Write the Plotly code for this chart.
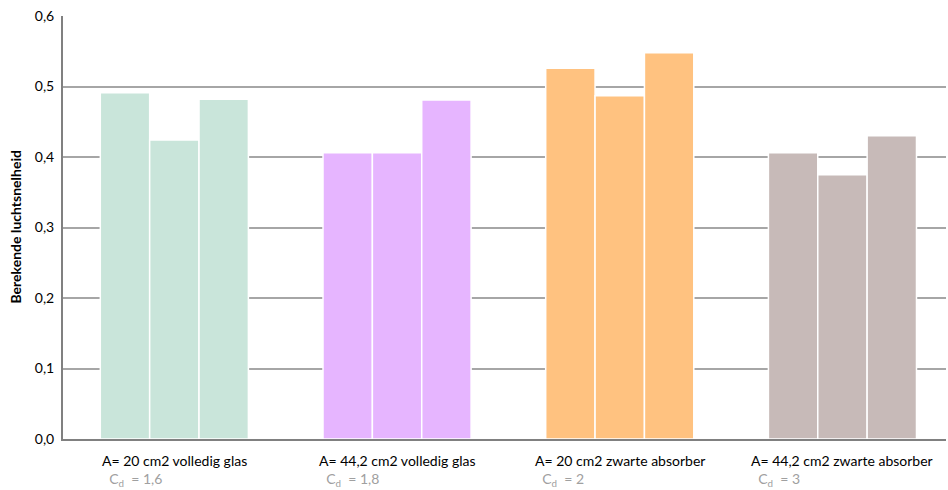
import plotly.graph_objects as go

categories = ["A= 20 cm2 volledig glas", "A= 44,2 cm2 volledig glas",
              "A= 20 cm2 zwarte absorber", "A= 44,2 cm2 zwarte absorber"]
cd_labels = ["1,6", "1,8", "2", "3"]
meting1 = [0.491, 0.406, 0.526, 0.406]
meting2 = [0.424, 0.406, 0.487, 0.375]
meting3 = [0.482, 0.481, 0.548, 0.430]
colors = ["#C9E5DA", "#E6B5FF", "#FFC280", "#C7BAB8"]
y_ticks = [0, 0.1, 0.2, 0.3, 0.4, 0.5, 0.6]

FONT = "Lato, Open Sans, sans-serif"

fig = go.Figure()
for name, vals in [("1", meting1), ("2", meting2), ("3", meting3)]:
    fig.add_trace(go.Bar(x=categories, y=vals, name=name,
                         marker=dict(color=colors, line=dict(color="white", width=1.5)),
                         showlegend=False))

for cat, cd in zip(categories, cd_labels):
    fig.add_annotation(x=cat, xref="x", y=-0.026, yref="paper", yanchor="top",
                       xanchor="center", align="left", showarrow=False,
                       text=f"{cat}<br><span style='color:#A0A0A0'>  C<sub>d</sub>  = {cd}</span>",
                       font=dict(family=FONT, size=14, color="#000"))

fig.add_annotation(x=0, xref="paper", xshift=-48, y=0.5, yref="paper",
                   xanchor="center", yanchor="middle", textangle=-90, showarrow=False,
                   text="<b>Berekende luchtsnelheid</b>",
                   font=dict(family=FONT, size=14, color="#000"))

fig.update_layout(
    width=948, height=490,
    margin=dict(l=63, r=2, t=16, b=51, autoexpand=False),
    plot_bgcolor="white", paper_bgcolor="white",
    barmode="group", bargap=0.335, bargroupgap=0,
    separators=",.",
    font=dict(family=FONT, size=14, color="#000"),
    xaxis=dict(showticklabels=False, showline=True, linecolor="#808080", linewidth=2,
               ticks="", showgrid=False, automargin=False, range=[-0.5, 3.465]),
    yaxis=dict(range=[0, 0.6], tickvals=y_ticks, tickformat=".1f",
               showline=True, linecolor="#808080", linewidth=2,
               showgrid=True, gridcolor="#A6A6A6", gridwidth=1.5,
               ticks="", ticklabelstandoff=4, tickfont=dict(size=14), automargin=False),
)

fig.write_html("out.html", config={"displayModeBar": False},
               post_script="document.body.style.margin='0';document.body.style.overflow='hidden';")
